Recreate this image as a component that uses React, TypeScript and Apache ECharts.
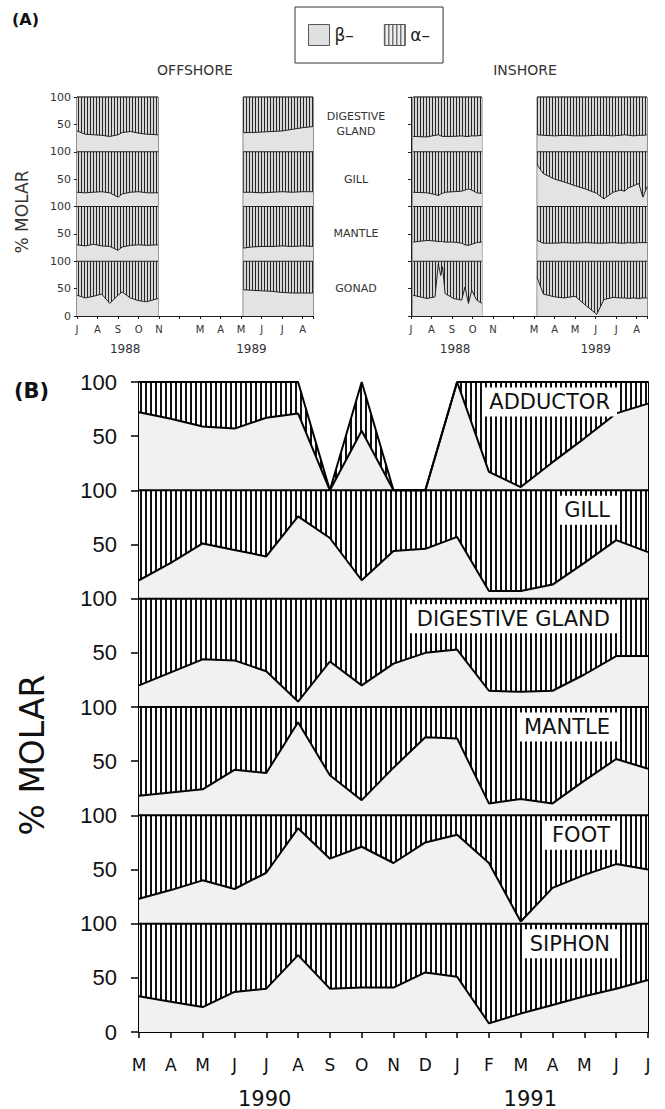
import React, { useEffect, useRef } from 'react';
import * as echarts from 'echarts';

// ---------- Panel B data (monthly, Mar 1990 – Jul 1991) ----------
const monthsB = ['M', 'A', 'M', 'J', 'J', 'A', 'S', 'O', 'N', 'D', 'J', 'F', 'M', 'A', 'M', 'J', 'J'];
const yearsB = ['1990', '1991'];
const yearPosB = [3.95, 12.3];
const organsB = ['ADDUCTOR', 'GILL', 'DIGESTIVE GLAND', 'MANTLE', 'FOOT', 'SIPHON'];
const adductorBeta = [72, 66, 59, 57, 67, 71, 0, 55, 0, 0, 100, 17, 3, 26, 48, 71, 80];
const adductorTotal = [100, 100, 100, 100, 100, 100, 0, 100, 0, 0, 100, 100, 100, 100, 100, 100, 100];
const gillBeta = [17, 33, 51, 45, 39, 76, 56, 17, 44, 46, 57, 7, 7, 13, 33, 54, 43];
const digestiveBeta = [20, 32, 44, 43, 33, 5, 42, 20, 40, 50, 53, 15, 14, 15, 30, 47, 47];
const mantleBeta = [18, 21, 24, 42, 39, 86, 37, 14, 44, 72, 71, 11, 15, 11, 32, 52, 43];
const footBeta = [23, 31, 40, 32, 47, 88, 60, 71, 56, 75, 82, 56, 2, 33, 45, 55, 50];
const siphonBeta = [33, 28, 23, 37, 40, 71, 40, 41, 41, 55, 51, 8, 17, 25, 33, 40, 48];
const fullTotal = [100, 100, 100, 100, 100, 100, 100, 100, 100, 100, 100, 100, 100, 100, 100, 100, 100];

// ---------- Panel A data (month index: 0 = Jul 1988 ... 5 = axis break, 6 = Mar 1989 ... 11 = Aug 1989) ----------
const monthsA = ['J', 'A', 'S', 'O', 'N', '', 'M', 'A', 'M', 'J', 'J', 'A'];
const yearsA = ['1988', '1989'];
const yearPosOff = [2.35, 8.5];
const yearPosIn = [2.15, 9.0];
const organsA = ['DIGESTIVE\nGLAND', 'GILL', 'MANTLE', 'GONAD'];
const gapX = 5;

const offX88 = [0, 0.4, 0.8, 1.2, 1.6, 2.0, 2.2, 2.6, 3.0, 3.4, 3.95];
const offDG88 = [38, 32, 31, 30, 28, 31, 35, 37, 34, 32, 31];
const offGill88 = [26, 25, 26, 27, 25, 17, 23, 26, 27, 25, 25];
const offMantle88 = [30, 28, 31, 28, 27, 20, 26, 29, 30, 29, 30];
const offGonad88 = [38, 33, 36, 40, 23, 38, 44, 33, 28, 26, 32];
const offX89 = [8.1, 8.5, 9, 9.5, 10, 10.5, 11, 11.5];
const offDG89 = [35, 35, 36, 37, 38, 41, 44, 46];
const offGill89 = [26, 26, 25, 26, 27, 26, 27, 27];
const offMantle89 = [24, 26, 27, 27, 28, 27, 28, 27];
const offGonad89 = [48, 47, 46, 45, 43, 42, 42, 42];

const inX88 = [0.1, 0.77, 1.17, 1.33, 1.45, 1.54, 1.66, 2.07, 2.47, 2.63, 2.8, 2.96, 3.2, 3.45];
const inDG88 = [28, 27, 30, 31, 29, 28, 28, 28, 29, 28, 28, 29, 29, 30];
const inGill88 = [26, 25, 22, 20, 23, 24, 26, 27, 28, 30, 32, 30, 25, 24];
const inMantle88 = [35, 38, 37, 36, 36, 36, 35, 35, 33, 30, 29, 31, 34, 35];
const inGonad88 = [38, 32, 35, 95, 74, 90, 41, 32, 29, 53, 23, 47, 29, 23];
const inX89 = [6.15, 6.45, 7.0, 7.45, 8.0, 8.5, 9.05, 9.4, 9.85, 10.2, 10.4, 10.6, 10.85, 11.1, 11.3, 11.5];
const inDG89 = [31, 30, 29, 30, 29, 29, 30, 30, 29, 30, 31, 30, 29, 30, 30, 31];
const inGill89 = [76, 60, 50, 45, 38, 32, 24, 14, 26, 30, 28, 34, 38, 42, 17, 36];
const inMantle89 = [38, 33, 33, 34, 33, 34, 33, 33, 34, 33, 33, 34, 33, 34, 34, 34];
const inGonad89 = [70, 40, 35, 33, 36, 20, 3, 30, 34, 33, 33, 32, 33, 32, 33, 33];

// ---------- layout ----------
const FONT = 'DejaVu Sans';
const A_TOP = 97, A_H = 219;
const OFF_LEFT = 77, IN_LEFT = 411, A_W = 236;
const B_TOP = 382, B_H = 650, B_LEFT = 139, B_W = 509;

function hatch(period: number, w: number, ink: string, paper: string) {
  const c = document.createElement('canvas');
  c.width = period; c.height = 4;
  const ctx = c.getContext('2d')!;
  ctx.fillStyle = paper; ctx.fillRect(0, 0, period, 4);
  ctx.fillStyle = ink; ctx.fillRect(0, 0, w, 4);
  return { image: c.toDataURL(), repeat: 'repeat', imageWidth: period, imageHeight: 4 };
}

function buildOption() {
  const hatchA = hatch(3, 1, '#262626', '#d6d6d6');
  const hatchB = hatch(5, 2, '#111111', '#ffffff');
  const hatchLegend = hatch(4, 1, '#333333', '#eeeeee');
  const betaA = '#e3e3e3';
  const betaB = '#f1f1f1';

  const series: any[] = [];

  // Panel A: each band occupies 100 units of its site's 0–400 axis; bands listed top (DIGESTIVE GLAND) to bottom (GONAD).
  // Areas fill down to the axis and are drawn from the top band downwards, so each lower area covers the rest.
  const sites = [
    {
      x88: offX88, x89: offX89, xi: 0, yi: 0,
      bands: [[offDG88, offDG89], [offGill88, offGill89], [offMantle88, offMantle89], [offGonad88, offGonad89]],
    },
    {
      x88: inX88, x89: inX89, xi: 2, yi: 1,
      bands: [[inDG88, inDG89], [inGill88, inGill89], [inMantle88, inMantle89], [inGonad88, inGonad89]],
    },
  ];
  sites.forEach((s) => {
    const n = s.bands.length;
    s.bands.forEach(([b88, b89], k) => {
      const base = (n - 1 - k) * 100;
      const top = [
        ...s.x88.map((x) => [x, base + 100]),
        [gapX, null],
        ...s.x89.map((x) => [x, base + 100]),
      ];
      const beta = [
        ...s.x88.map((x, i) => [x, base + b88[i]]),
        [gapX, null],
        ...s.x89.map((x, i) => [x, base + b89[i]]),
      ];
      const common = {
        type: 'line', xAxisIndex: s.xi, yAxisIndex: s.yi,
        symbol: 'none', silent: true, connectNulls: false,
        lineStyle: { color: '#222', width: 1 },
      };
      const alphaSeries: any = { ...common, name: 'α–', data: top, areaStyle: { color: hatchA, opacity: 1, origin: 'start' } };
      if (k === 0) {
        alphaSeries.markArea = {
          silent: true,
          itemStyle: { color: 'rgba(0,0,0,0)', borderColor: '#222', borderWidth: 1 },
          data: [
            [{ coord: [s.x88[0], 0] }, { coord: [s.x88[s.x88.length - 1], 400] }],
            [{ coord: [s.x89[0], 0] }, { coord: [s.x89[s.x89.length - 1], 400] }],
          ],
        };
      }
      series.push(alphaSeries);
      series.push({ ...common, name: 'β–', data: beta, areaStyle: { color: betaA, opacity: 1, origin: 'start' } });
    });
  });

  // Panel B: bands from bottom (SIPHON) to top (ADDUCTOR), stacked
  const bandsB = [
    [siphonBeta, fullTotal], [footBeta, fullTotal], [mantleBeta, fullTotal],
    [digestiveBeta, fullTotal], [gillBeta, fullTotal], [adductorBeta, adductorTotal],
  ];
  bandsB.forEach(([beta, total]) => {
    const common = {
      type: 'line', stack: 'B', xAxisIndex: 4, yAxisIndex: 2, symbol: 'none', silent: true,
      lineStyle: { color: '#000', width: 2 },
    };
    series.push({ ...common, name: 'β–', data: beta, areaStyle: { color: betaB, opacity: 1 } });
    series.push({ ...common, name: 'α–', data: total.map((t, i) => t - beta[i]), areaStyle: { color: hatchB, opacity: 1 } });
  });

  const axisLineA = { show: true, lineStyle: { color: '#222', width: 1 } };
  const monthAxisA = (gridIndex: number) => ({
    gridIndex, type: 'value', min: 0, max: 11.5, interval: 1, position: 'bottom',
    axisLine: axisLineA,
    axisTick: { show: true, length: 3, lineStyle: { color: '#222' } },
    axisLabel: {
      fontSize: 10, color: '#333', margin: 8, fontFamily: FONT,
      formatter: (v: number) => (Number.isInteger(v) ? monthsA[v] ?? '' : ''),
    },
    splitLine: { show: false },
  });
  const yearAxisA = (gridIndex: number, pos: number[]) => ({
    gridIndex, type: 'value', min: 0, max: 11.5, position: 'bottom',
    axisLine: { show: false }, axisTick: { show: false }, splitLine: { show: false },
    axisLabel: {
      customValues: pos, fontSize: 12, color: '#333', margin: 27, fontFamily: FONT,
      formatter: (v: number) => (v < gapX ? yearsA[0] : yearsA[1]),
    },
  });
  const fmtBand = (v: number) => (v === 0 ? '0' : v % 100 === 0 ? '100' : '50');

  const graphic: any[] = [
    { type: 'text', x: 12, y: 19, style: { text: '(A)', fontSize: 16, fontWeight: 'bold', fontFamily: FONT, fill: '#111', verticalAlign: 'middle' } },
    { type: 'text', x: 14, y: 391, style: { text: '(B)', fontSize: 21, fontWeight: 'bold', fontFamily: FONT, fill: '#111', verticalAlign: 'middle' } },
    { type: 'text', x: 195, y: 70, style: { text: 'OFFSHORE', fontSize: 14, fontFamily: FONT, fill: '#333', align: 'center', verticalAlign: 'middle' } },
    { type: 'text', x: 525, y: 70, style: { text: 'INSHORE', fontSize: 14, fontFamily: FONT, fill: '#333', align: 'center', verticalAlign: 'middle' } },
    { type: 'text', x: 22, y: 212, rotation: Math.PI / 2, style: { text: '% MOLAR', fontSize: 17, fontFamily: FONT, fill: '#333', align: 'center', verticalAlign: 'middle' } },
    { type: 'text', x: 32, y: 755, rotation: Math.PI / 2, style: { text: '% MOLAR', fontSize: 33, fontFamily: FONT, fill: '#111', align: 'center', verticalAlign: 'middle' } },
  ];
  organsA.forEach((name, k) => {
    graphic.push({
      type: 'text', x: 356, y: A_TOP + (k + 0.5) * (A_H / 4),
      style: { text: name, fontSize: 11, lineHeight: 15, fontFamily: FONT, fill: '#333', align: 'center', verticalAlign: 'middle' },
    });
  });
  organsB.forEach((name, k) => {
    graphic.push({
      type: 'text', x: 617, y: B_TOP + k * (B_H / 6) + 20, z: 100,
      style: {
        text: name, fontSize: 21, fontFamily: FONT, fill: '#111', align: 'right', verticalAlign: 'middle',
        backgroundColor: '#ffffff', padding: [4, 7, 4, 7],
      },
    });
  });

  return {
    animation: false,
    backgroundColor: '#ffffff',
    textStyle: { fontFamily: FONT },
    legend: {
      left: 295, top: 7, orient: 'horizontal', icon: 'rect', selectedMode: false,
      itemWidth: 21, itemHeight: 21, itemGap: 30, padding: [17, 13, 17, 13],
      borderColor: '#333', borderWidth: 1,
      textStyle: { fontSize: 17, color: '#222', fontFamily: FONT },
      data: [
        { name: 'β–', itemStyle: { color: '#e0e0e0', borderColor: '#555', borderWidth: 1 } },
        { name: 'α–', itemStyle: { color: hatchLegend, borderColor: '#555', borderWidth: 1 } },
      ],
    },
    grid: [
      { left: OFF_LEFT, top: A_TOP, width: A_W, height: A_H },
      { left: IN_LEFT, top: A_TOP, width: A_W, height: A_H },
      { left: B_LEFT, top: B_TOP, width: B_W, height: B_H },
    ],
    xAxis: [
      monthAxisA(0),
      yearAxisA(0, yearPosOff),
      monthAxisA(1),
      yearAxisA(1, yearPosIn),
      {
        gridIndex: 2, type: 'category', data: monthsB, boundaryGap: false, position: 'bottom',
        axisLine: { show: true, lineStyle: { color: '#000', width: 2 } },
        axisTick: { show: true, length: 6, lineStyle: { color: '#000', width: 1.5 } },
        axisLabel: { fontSize: 17, color: '#111', margin: 24, fontFamily: FONT, interval: 0 },
        splitLine: { show: false },
      },
      {
        gridIndex: 2, type: 'value', min: 0, max: 16, position: 'bottom',
        axisLine: { show: false }, axisTick: { show: false }, splitLine: { show: false },
        axisLabel: {
          customValues: yearPosB, fontSize: 21, color: '#111', margin: 56, fontFamily: FONT,
          formatter: (v: number) => (v < 8 ? yearsB[0] : yearsB[1]),
        },
      },
    ],
    yAxis: [
      {
        gridIndex: 0, type: 'value', min: 0, max: 400, interval: 50,
        axisLine: axisLineA, axisTick: { show: true, length: 3, lineStyle: { color: '#222' } },
        axisLabel: { fontSize: 11, color: '#333', margin: 6, fontFamily: FONT, formatter: fmtBand },
        splitLine: { show: false },
      },
      {
        gridIndex: 1, type: 'value', min: 0, max: 400, interval: 50,
        axisLine: axisLineA, axisTick: { show: true, length: 3, lineStyle: { color: '#222' } },
        axisLabel: { show: false },
        splitLine: { show: false },
      },
      {
        gridIndex: 2, type: 'value', min: 0, max: 600, interval: 50,
        axisLine: { show: true, lineStyle: { color: '#000', width: 2 } },
        axisTick: { show: true, length: 8, lineStyle: { color: '#000', width: 1.5 } },
        axisLabel: { fontSize: 22, color: '#111', margin: 22, fontFamily: 'Liberation Sans', formatter: fmtBand },
        splitLine: { show: false },
      },
      {
        gridIndex: 2, type: 'value', min: 0, max: 600, position: 'right',
        axisLine: { show: true, lineStyle: { color: '#000', width: 2 } },
        axisTick: { show: false }, axisLabel: { show: false }, splitLine: { show: false },
      },
    ],
    series,
    graphic,
  };
}

export default function App() {
  const ref = useRef<HTMLDivElement>(null);
  useEffect(() => {
    document.body.style.margin = '0';
    document.body.style.overflow = 'hidden';
    if (!ref.current) return;
    const chart = echarts.init(ref.current, undefined, { renderer: 'svg' });
    chart.setOption(buildOption() as any);
    return () => chart.dispose();
  }, []);
  return <div ref={ref} style={{ width: 665, height: 1109 }} />;
}
